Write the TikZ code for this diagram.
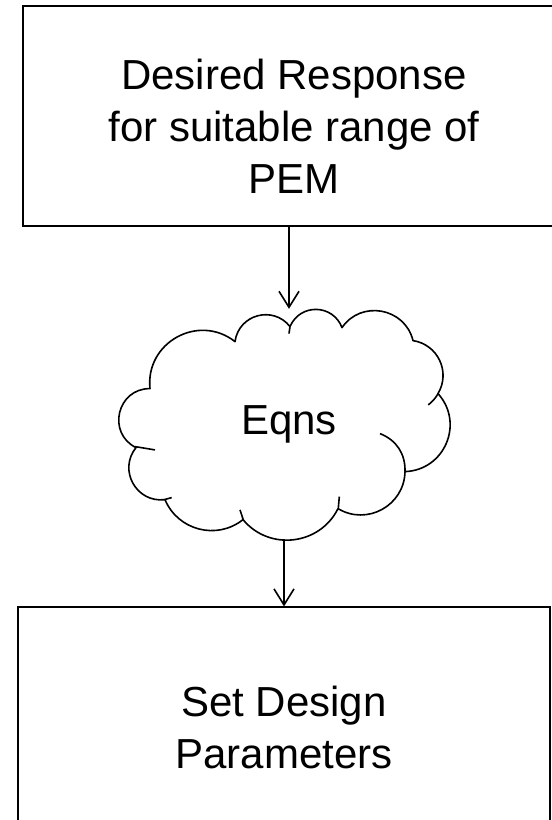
\documentclass[tikz,border=0pt]{standalone}
\usepackage{fontspec}
\setmainfont{Liberation Sans}
\usetikzlibrary{arrows.meta,positioning}

\begin{document}
\begin{tikzpicture}[x=1pt,y=1pt,line width=1.6pt,>={Straight Barb[length=16pt,width=20pt]}]
 \tikzstyle{stepbox}=[draw,rectangle,minimum width=532pt,minimum height=220pt,inner sep=0pt]
 \tikzstyle{boxtext}=[align=center,font=\fontsize{42pt}{52pt}\selectfont]
 \tikzstyle{cloudbox}=[rectangle,minimum width=331pt,minimum height=229pt,inner sep=0pt,font=\fontsize{42pt}{52pt}\selectfont]
 \tikzstyle{cloudline}=[line join=round]

 \useasboundingbox (0,0) rectangle (552,-820);

   \node[stepbox,minimum width=542pt] (resp) at (294,-116) {};
   \node[cloudbox,xshift=-5pt] (eqns) [below=82pt of resp] {Eqns};
   \node[stepbox,xshift=-5pt] (setpar) [below=67pt of eqns] {};
   \node[boxtext] (resptxt) at ([yshift=-10pt]resp.center) {Desired Response\\for suitable range of\\PEM};
   \node[boxtext] (settxt) at ([yshift=-10pt]setpar.center) {Set Design\\Parameters};

   % cloud round the eqns node
   \begin{scope}[shift={(eqns.center)}]
   \draw[cloudline] (1,97.5)
     to[bend left=68,looseness=1.25] (53,96.5)
     to[bend left=66,looseness=1.2] (124,83.5)
     to[bend left=56,looseness=1.1] (149,30.5)
     to[bend left=65,looseness=1.2] (116,-47.5)
     to[bend left=60,looseness=1.13] (49,-84.5)
     to[bend left=57,looseness=1.1] (-46,-95.5)
     to[bend left=53,looseness=1.06] (-124,-75.5)
     to[bend left=68,looseness=1.24] (-153,-23.5)
     to[bend left=77,looseness=1.39] (-139,35.5)
     to[bend left=67,looseness=1.22] (-54,82.5)
     to[bend left=67,looseness=1.23] (1,97.5);
   \draw (1,97.5) -- (0,90.5);
   \draw (149.3,30.8) to[bend left=10] (139.3,19.2);
   \draw (116,-47.5) to[bend right=35] (91,-9.5);
   \draw (49.3,-84.2) -- (50.3,-72.5);
   \draw (-45.7,-95.8) -- (-49,-85.8);
   \draw (-125.7,-75.8) -- (-117.3,-73.5);
   \draw (-154,-22.5) -- (-134,-25.8);
   \end{scope}

   \path[->]
   ([xshift=-5pt]resp.south) edge (eqns)
   ([xshift=-5pt]eqns.south) edge (setpar);

\end{tikzpicture}
\end{document}
